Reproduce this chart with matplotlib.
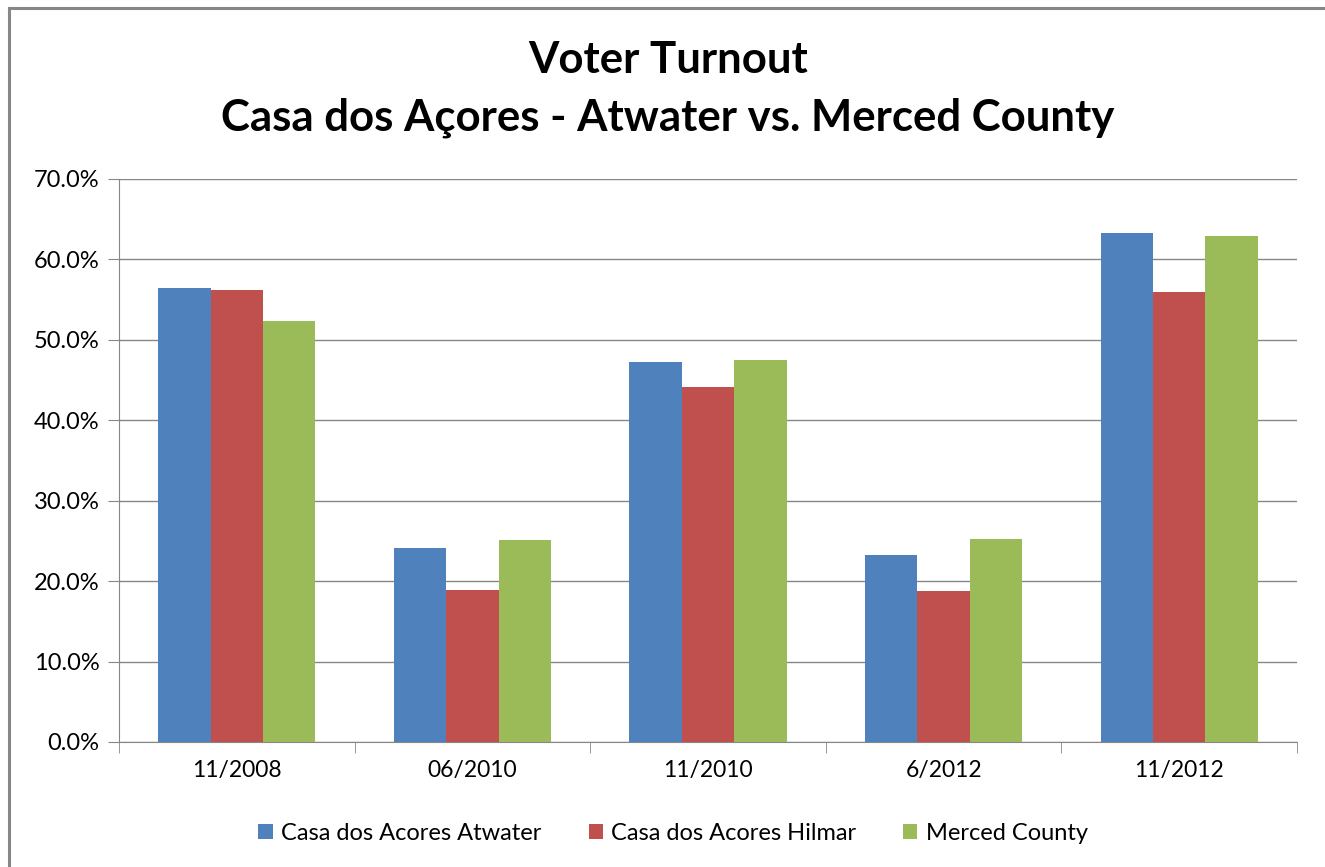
import numpy as np
import matplotlib
matplotlib.use('Agg')
import matplotlib.pyplot as plt
from matplotlib.lines import Line2D
from matplotlib.ticker import FuncFormatter

categories = ['11/2008', '06/2010', '11/2010', '6/2012', '11/2012']
series_names = ['Casa dos Acores Atwater', 'Casa dos Acores Hilmar', 'Merced County']
atwater = [56.5, 24.1, 47.2, 23.2, 63.3]
hilmar = [56.2, 18.9, 44.2, 18.8, 55.9]
merced = [52.3, 25.1, 47.5, 25.3, 62.9]
colors = ['#4f81bd', '#c0504d', '#9bbb59']

plt.rcParams['font.family'] = ['Lato', 'DejaVu Sans']

fig = plt.figure(figsize=(13.25, 8.67), dpi=100)
ax = fig.add_axes([119/1325, 125/867, 1178/1325, 563/867])

x = np.arange(len(categories))
w = 1/4.5
for i, (vals, c, name) in enumerate(zip([atwater, hilmar, merced], colors, series_names)):
    ax.bar(x + (i-1)*w, vals, width=w, color=c, label=name, zorder=3)

ax.set_xlim(-0.5, len(categories)-0.5)
ax.set_ylim(0, 70)
ax.set_yticks(np.arange(0, 71, 10))
ax.yaxis.set_major_formatter(FuncFormatter(lambda v, p: f'{v:.1f}%'))
ax.set_xticks(x)
ax.set_xticklabels(categories)
ax.set_xticks(np.arange(-0.5, len(categories), 1), minor=True)
ax.grid(axis='y', color='#868686', linewidth=1, zorder=0)
for s in ['top', 'right']:
    ax.spines[s].set_visible(False)
for s in ['left', 'bottom']:
    ax.spines[s].set_color('#868686')
ax.tick_params(axis='y', length=8, color='#868686', labelsize=17, pad=6)
ax.tick_params(axis='x', which='major', length=0, labelsize=16.5, pad=13)
ax.tick_params(axis='x', which='minor', length=8, color='#868686')

fig.text(0.504, 1-60/867, 'Voter Turnout', ha='center', va='center',
         fontsize=31.5, fontweight='bold')
fig.text(0.504, 1-118/867, 'Casa dos Açores - Atwater vs. Merced County', ha='center',
         va='center', fontsize=31.5, fontweight='bold')

fig.legend(loc='center', bbox_to_anchor=(0.508, 1-833/867), ncol=3, frameon=False,
           fontsize=17, handlelength=0.6, handleheight=0.6, columnspacing=2.0,
           handletextpad=0.35)

fig.add_artist(Line2D([9/1325, 9/1325], [0, 1-8/867], color='#878787', linewidth=2.2,
                      transform=fig.transFigure))
fig.add_artist(Line2D([9/1325, 1], [1-8/867, 1-8/867], color='#878787', linewidth=2.2,
                      transform=fig.transFigure))

fig.savefig('out.png', dpi=100)
